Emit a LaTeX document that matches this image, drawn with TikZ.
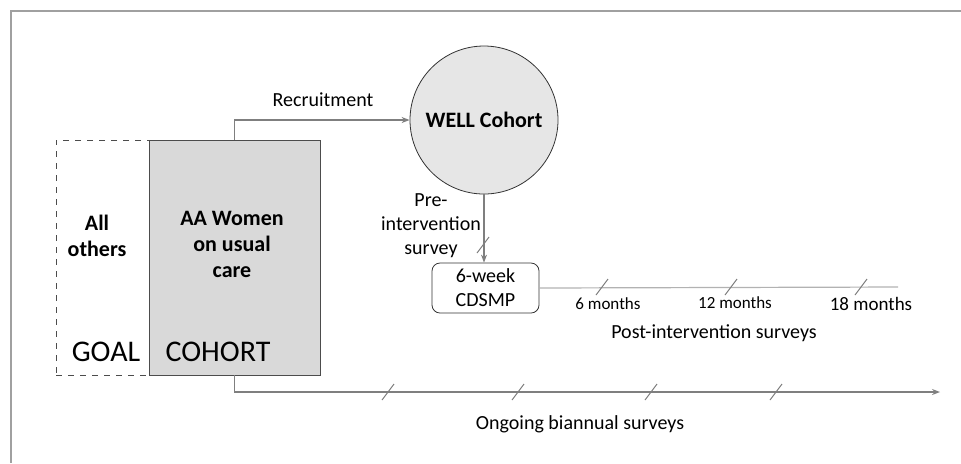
\documentclass[tikz,border=0pt]{standalone}
\usepackage{fontspec}
\setmainfont{Carlito}
\usetikzlibrary{arrows.meta}

\definecolor{framegray}{HTML}{A0A0A0}
\definecolor{linegray}{HTML}{7F7F7F}
\definecolor{boxgray}{HTML}{D9D9D9}
\definecolor{circgray}{HTML}{E6E6E6}

\begin{document}
\begin{tikzpicture}[x=0.5pt, y=-0.5pt,
  conn/.style={draw=linegray, line width=0.6pt},
  tip/.style={-{Stealth[length=4pt,width=3pt]}},
  tick/.style={draw=linegray, line width=0.5pt},
  lbl/.style={font=\fontsize{10}{12}\selectfont, align=center, inner sep=1pt}]
\useasboundingbox (0,0) rectangle (961,463);
% Frame
\draw[framegray, line width=1pt] (961,11) -- (11,11) -- (11,463);

% Population boxes
\node[draw=black!70, dashed, minimum width=46.5pt, minimum height=117.5pt, inner sep=0pt] (goal) at (102.5,257.5) {};
\node[draw=black!70, fill=boxgray, minimum width=85.5pt, minimum height=117.5pt, inner sep=0pt] (cohort) at (234.5,257.5) {};
\node[font=\fontsize{11}{13}\selectfont\bfseries, align=center] (others) at (97,236) {All\\others};
\node[font=\fontsize{11}{13}\selectfont\bfseries, align=center] (women) at (232,244) {AA Women\\on usual\\care};
\node[font=\fontsize{15}{17}\selectfont] (goallbl) at (106,352) {GOAL};
\node[font=\fontsize{15}{17}\selectfont] (cohortlbl) at (218,352) {COHORT};

% Intervention
\node[draw=black!80, fill=circgray, circle, minimum size=74pt, inner sep=0pt, font=\fontsize{11}{13}\selectfont\bfseries] (well) at (484,120) {WELL Cohort};
\node[draw=black!80, rounded corners=4pt, minimum width=53.5pt, minimum height=25pt, inner sep=0pt, lbl] (cdsmp) at (485.5,288) {6-week\\CDSMP};

% Labels
\node[font=\fontsize{10}{12}\selectfont] (recruit) at (323,100) {Recruitment};
\node[lbl] (pre) at (431,226) {Pre-\\intervention\\survey};
\node[lbl, font=\fontsize{8.5}{10}\selectfont] (m6) at (608,304) {6 months};
\node[lbl, font=\fontsize{8.5}{10}\selectfont] (m12) at (735,303) {12 months};
\node[lbl, font=\fontsize{9.5}{11}\selectfont] (m18) at (871,304) {18 months};
\node[lbl] (post) at (714,333) {Post-intervention surveys};
\node[lbl] (ongoing) at (580,424) {Ongoing biannual surveys};

\coordinate (postend) at (898,287);
\coordinate (ongoingend) at (940,392);

% Arrows
\draw[conn, tip] (cohort.north) |- (well.west);
\draw[conn, tip] (well.south) -- (well.south |- cdsmp.north);
\draw[conn, draw=black!30] (cdsmp.east) -- (postend);
\draw[conn, tip] (cohort.south) |- (ongoingend);

% Survey ticks
\draw[tick] (477,253) -- (489,237);
\foreach \tx in {602,731,861}
  \draw[tick] (\tx-6,295) -- (\tx+6,279);
\foreach \tx in {388,518,651,776}
  \draw[tick] (\tx-6,400) -- (\tx+6,384);
\end{tikzpicture}
\end{document}
